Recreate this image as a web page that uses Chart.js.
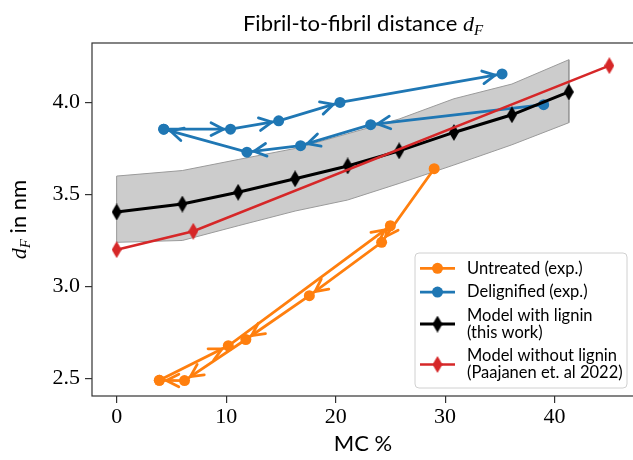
<!DOCTYPE html>
<html lang="en">
<head>
  <meta charset="UTF-8" />
  <title>Fibril-to-fibril distance</title>
  <script src="https://cdn.jsdelivr.net/npm/chart.js"></script>
  <style>
    html, body { margin: 0; padding: 0; background: #fff; overflow: hidden; }
    #wrap { position: relative; width: 633px; height: 460px; overflow: hidden; }
    #wrap canvas { position: absolute; left: 0; top: 0; }
  </style>
</head>
<body>
  <div id="wrap"><canvas id="chart" width="660" height="460"></canvas></div>

  <script>
    // moisture content (MC %) and fibril distance (nm)
    const untreatedUpX = [3.9, 10.2, 25.0];
    const untreatedUpY = [2.49, 2.678, 3.33];
    const untreatedDownX = [29.0, 24.2, 17.6, 11.8, 6.2, 3.9];
    const untreatedDownY = [3.64, 3.24, 2.95, 2.712, 2.489, 2.49];

    const delignUpX = [4.3, 10.4, 14.8, 20.4, 35.2];
    const delignUpY = [3.855, 3.855, 3.90, 4.00, 4.155];
    const delignDownX = [39.0, 23.2, 16.8, 11.9, 4.3];
    const delignDownY = [3.988, 3.879, 3.765, 3.73, 3.855];

    const modelX = [0, 6.0, 11.1, 16.3, 21.1, 25.8, 30.8, 36.1, 41.3];
    const modelY = [3.405, 3.448, 3.512, 3.585, 3.655, 3.737, 3.837, 3.933, 4.057];
    const modelUpper = [3.60, 3.63, 3.69, 3.75, 3.83, 3.91, 4.02, 4.10, 4.232];
    const modelLower = [3.24, 3.25, 3.33, 3.41, 3.47, 3.56, 3.66, 3.77, 3.89];

    const paajanenX = [0, 7.0, 45.0];
    const paajanenY = [3.20, 3.30, 4.20];

    const xTicks = [0, 10, 20, 30, 40];
    const yTicks = [2.5, 3.0, 3.5, 4.0];

    const legendLabels = [
      ['Untreated (exp.)'],
      ['Delignified (exp.)'],
      ['Model with lignin', '(this work)'],
      ['Model without lignin', '(Paajanen et. al 2022)']
    ];

    const ORANGE = '#ff7f0e', BLUE = '#1f77b4', RED = '#d62728', BLACK = '#000000';
    const sans = 'Lato, "DejaVu Sans", sans-serif';
    const serif = '"Liberation Serif", "DejaVu Serif", serif';

    const pts = (xs, ys) => xs.map((x, i) => ({ x: x, y: ys[i] }));

    // thin diamond marker, like matplotlib's 'd'
    function diamond(color, w, h) {
      const c = document.createElement('canvas');
      c.width = w; c.height = h;
      const g = c.getContext('2d');
      g.fillStyle = color;
      g.beginPath();
      g.moveTo(w / 2, 0); g.lineTo(w, h / 2); g.lineTo(w / 2, h); g.lineTo(0, h / 2);
      g.closePath();
      g.fill();
      return c;
    }
    const blackDiamond = diamond(BLACK, 10, 17);
    const redDiamond = diamond(RED, 10, 17);

    // closed outline of the model spread band
    const band = pts(modelX, modelUpper).concat(pts(modelX, modelLower).reverse());
    band.push({ x: band[0].x, y: band[0].y });

    const expStyle = (color) => ({
      borderColor: color, backgroundColor: color, borderWidth: 2.8,
      pointRadius: 5.5, pointBorderWidth: 0, pointBackgroundColor: color, arrows: true
    });

    const datasets = [
      Object.assign({ label: 'untreated-up', data: pts(untreatedUpX, untreatedUpY), order: 4 }, expStyle(ORANGE)),
      Object.assign({ label: 'untreated-down', data: pts(untreatedDownX, untreatedDownY), order: 4 }, expStyle(ORANGE)),
      Object.assign({ label: 'delign-up', data: pts(delignUpX, delignUpY), order: 3 }, expStyle(BLUE)),
      Object.assign({ label: 'delign-down', data: pts(delignDownX, delignDownY), order: 3 }, expStyle(BLUE)),
      {
        label: 'model', data: pts(modelX, modelY), order: 2,
        borderColor: BLACK, backgroundColor: BLACK, borderWidth: 3,
        pointStyle: blackDiamond, pointRadius: 5
      },
      {
        label: 'paajanen', data: pts(paajanenX, paajanenY), order: 1,
        borderColor: RED, backgroundColor: RED, borderWidth: 2.5,
        pointStyle: redDiamond, pointRadius: 5
      },
      {
        label: 'band', data: band, order: 9,
        borderColor: '#9a9a9a', borderWidth: 1, backgroundColor: 'rgba(128,128,128,0.4)',
        fill: 'shape', pointRadius: 0
      }
    ];
    const legendSets = [0, 2, 4, 5];

    // open "->" heads at the end of every segment of the measured loops
    const arrowHeads = {
      id: 'arrowHeads',
      afterDatasetDraw(chart, args) {
        const ds = chart.data.datasets[args.index];
        if (!ds.arrows) return;
        const p = args.meta.data;
        const ctx = chart.ctx;
        ctx.save();
        ctx.strokeStyle = ds.borderColor;
        ctx.lineWidth = ds.borderWidth;
        ctx.lineCap = 'round';
        for (let i = 1; i < p.length; i++) {
          const a = p[i - 1], b = p[i];
          const ang = Math.atan2(b.y - a.y, b.x - a.x);
          const tx = b.x - Math.cos(ang) * 7, ty = b.y - Math.sin(ang) * 7;
          ctx.beginPath();
          [-1, 1].forEach(s => {
            const w = ang + Math.PI + s * 0.47;
            ctx.moveTo(tx + Math.cos(w) * 14, ty + Math.sin(w) * 14);
            ctx.lineTo(tx, ty);
          });
          ctx.stroke();
        }
        ctx.restore();
      }
    };

    function drawParts(ctx, parts, x, y, align) {
      let w = 0;
      parts.forEach(p => { ctx.font = p.font; p.w = ctx.measureText(p.text).width; w += p.w; });
      let cx = align === 'center' ? x - w / 2 : x;
      parts.forEach(p => {
        ctx.font = p.font;
        ctx.fillText(p.text, cx, y + (p.dy || 0));
        cx += p.w;
      });
    }

    const frameAndText = {
      id: 'frameAndText',
      afterDatasetsDraw(chart) {
        const { ctx, chartArea: a } = chart;
        ctx.save();
        ctx.strokeStyle = '#333';
        ctx.lineWidth = 1.2;
        ctx.strokeRect(a.left, a.top, a.right - a.left, a.bottom - a.top);
        ctx.restore();
      },
      afterDraw(chart) {
        const { ctx, chartArea: a } = chart;
        const cx = (a.left + a.right) / 2;
        ctx.save();
        ctx.fillStyle = '#000';
        ctx.textBaseline = 'alphabetic';
        ctx.textAlign = 'left';

        // title
        drawParts(ctx, [
          { text: 'Fibril-to-fibril distance ', font: '22px ' + sans },
          { text: 'd', font: 'italic 22px ' + serif },
          { text: 'F', font: 'italic 15px ' + serif, dy: 4 }
        ], cx, 31, 'center');

        // x axis label
        drawParts(ctx, [{ text: 'MC %', font: '22px ' + sans }], cx, 451, 'center');

        // y axis label
        ctx.save();
        ctx.translate(26, (a.top + a.bottom) / 2);
        ctx.rotate(-Math.PI / 2);
        drawParts(ctx, [
          { text: 'd', font: 'italic 22px ' + serif },
          { text: 'F', font: 'italic 15px ' + serif, dy: 4 },
          { text: ' in nm', font: '22px ' + sans }
        ], 0, 0, 'center');
        ctx.restore();

        // legend
        const bx = 415, by = 253, bw = 212, bh = 135;
        ctx.beginPath();
        ctx.roundRect(bx, by, bw, bh, 4);
        ctx.fillStyle = 'rgba(255,255,255,0.85)';
        ctx.fill();
        ctx.strokeStyle = '#d0d0d0';
        ctx.lineWidth = 1;
        ctx.stroke();

        const lh = 16.7;
        let y = by + 7;
        ctx.textBaseline = 'middle';
        legendLabels.forEach((lines, k) => {
          const ds = chart.data.datasets[legendSets[k]];
          const h = lines.length * lh;
          const my = y + h / 2;
          ctx.strokeStyle = ds.borderColor;
          ctx.lineWidth = ds.borderWidth;
          ctx.beginPath();
          ctx.moveTo(420, my); ctx.lineTo(455, my);
          ctx.stroke();
          if (ds.pointStyle && typeof ds.pointStyle === 'object') {
            const img = ds.pointStyle;
            ctx.drawImage(img, 437.5 - img.width / 2, my - img.height / 2);
          } else {
            ctx.fillStyle = ds.borderColor;
            ctx.beginPath();
            ctx.arc(437.5, my, ds.pointRadius, 0, Math.PI * 2);
            ctx.fill();
          }
          ctx.fillStyle = '#000';
          ctx.font = '16.5px ' + sans;
          lines.forEach((t, j) => ctx.fillText(t, 467, y + lh * j + lh / 2));
          y += h + 7;
        });
        ctx.restore();
      }
    };

    new Chart(document.getElementById('chart'), {
      type: 'line',
      data: { datasets: datasets },
      plugins: [arrowHeads, frameAndText],
      options: {
        responsive: false,
        animation: false,
        devicePixelRatio: 1,
        layout: { padding: { left: 0, top: 43, right: 26, bottom: 0 } },
        elements: { line: { tension: 0 } },
        plugins: {
          legend: { display: false },
          title: { display: false },
          tooltip: { enabled: false }
        },
        scales: {
          x: {
            type: 'linear', min: -2.25, max: 47.25,
            afterBuildTicks: s => { s.ticks = xTicks.map(v => ({ value: v })); },
            afterFit: s => { s.height = 64; },
            grid: { drawOnChartArea: false, drawTicks: true, tickLength: 7, color: '#333', lineWidth: 1.2 },
            border: { display: false },
            ticks: {
              color: '#000', padding: 1, maxRotation: 0,
              font: { family: serif, size: 22 },
              callback: v => String(v)
            }
          },
          y: {
            type: 'linear', min: 2.405, max: 4.323,
            afterBuildTicks: s => { s.ticks = yTicks.map(v => ({ value: v })); },
            afterFit: s => { s.width = 92; },
            grid: { drawOnChartArea: false, drawTicks: true, tickLength: 7, color: '#333', lineWidth: 1.2 },
            border: { display: false },
            ticks: {
              color: '#000', padding: 5,
              font: { family: serif, size: 22 },
              callback: v => v.toFixed(1)
            }
          }
        }
      }
    });
  </script>
</body>
</html>
